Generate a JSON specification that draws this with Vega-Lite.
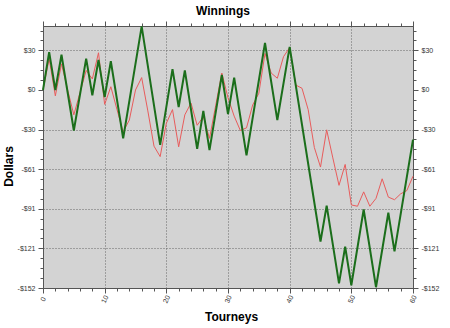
{
  "$schema": "https://vega.github.io/schema/vega-lite/v6.json",
  "width": 370,
  "height": 262,
  "autosize": "none",
  "padding": {"left": 43, "top": 26, "right": 37, "bottom": 40},
  "background": "white",
  "title": {"text": "Winnings", "fontSize": 12, "font": "Liberation Sans", "fontWeight": "bold", "color": "black", "offset": 3, "anchor": "middle", "dx": -5},
  "config": {
    "view": {"fill": "#d3d3d3", "stroke": "#555555", "strokeWidth": 1},
    "axis": {
      "labelFont": "Liberation Sans", "labelFontSize": 7, "labelColor": "#333333",
      "titleFont": "Liberation Sans", "titleFontSize": 12, "titleFontWeight": "bold", "titleColor": "black",
      "domainColor": "#555555", "tickColor": "#555555", "gridColor": "#666666", "gridDash": [1, 2], "gridWidth": 1
    }
  },
  "datasets": {
    "red": [
      {"t": 0, "v": 0}, {"t": 1, "v": 24}, {"t": 2, "v": -4.5}, {"t": 3, "v": 20}, {"t": 4, "v": 0},
      {"t": 5, "v": -19}, {"t": 6, "v": -2}, {"t": 7, "v": 15}, {"t": 8, "v": 8.5}, {"t": 9, "v": 28.5},
      {"t": 10, "v": -11}, {"t": 11, "v": 2.5}, {"t": 12, "v": -15}, {"t": 13, "v": -32}, {"t": 14, "v": -23},
      {"t": 15, "v": 0}, {"t": 16, "v": 9.5}, {"t": 17, "v": -16}, {"t": 18, "v": -43}, {"t": 19, "v": -51},
      {"t": 20, "v": -25.5}, {"t": 21, "v": -15}, {"t": 22, "v": -43.5}, {"t": 23, "v": -19}, {"t": 24, "v": -10},
      {"t": 25, "v": -27}, {"t": 26, "v": -20.5}, {"t": 27, "v": -37}, {"t": 28, "v": -12}, {"t": 29, "v": 13},
      {"t": 30, "v": -6}, {"t": 31, "v": -20}, {"t": 32, "v": -31}, {"t": 33, "v": -29}, {"t": 34, "v": -11.5},
      {"t": 35, "v": -2.5}, {"t": 36, "v": 28}, {"t": 37, "v": 13}, {"t": 38, "v": 9}, {"t": 39, "v": 25.5},
      {"t": 40, "v": 32.5}, {"t": 41, "v": 3.8}, {"t": 42, "v": 1.3}, {"t": 43, "v": -15}, {"t": 44, "v": -44},
      {"t": 45, "v": -59}, {"t": 46, "v": -30.5}, {"t": 47, "v": -52}, {"t": 48, "v": -73}, {"t": 49, "v": -57},
      {"t": 50, "v": -88}, {"t": 51, "v": -89}, {"t": 52, "v": -78}, {"t": 53, "v": -89}, {"t": 54, "v": -83},
      {"t": 55, "v": -68}, {"t": 56, "v": -82}, {"t": 57, "v": -84}, {"t": 58, "v": -79.5}, {"t": 59, "v": -77},
      {"t": 60, "v": -66}
    ],
    "green": [
      {"t": 0, "v": 0}, {"t": 1, "v": 29}, {"t": 2, "v": 0}, {"t": 3, "v": 27}, {"t": 5, "v": -31},
      {"t": 7, "v": 24}, {"t": 8, "v": -4}, {"t": 9, "v": 23}, {"t": 10, "v": -5.5}, {"t": 11, "v": 22},
      {"t": 13, "v": -37}, {"t": 16, "v": 48.7}, {"t": 19, "v": -42}, {"t": 21, "v": 16}, {"t": 22, "v": -13},
      {"t": 23, "v": 15}, {"t": 25, "v": -45}, {"t": 26, "v": -16}, {"t": 27, "v": -46}, {"t": 29, "v": 11.5},
      {"t": 30, "v": -18.5}, {"t": 31, "v": 9.5}, {"t": 33, "v": -50}, {"t": 36, "v": 36}, {"t": 38, "v": -23},
      {"t": 40, "v": 33}, {"t": 45, "v": -116}, {"t": 46, "v": -88.5}, {"t": 48, "v": -148}, {"t": 49, "v": -120},
      {"t": 50, "v": -149.5}, {"t": 52, "v": -91.5}, {"t": 54, "v": -151}, {"t": 56, "v": -94}, {"t": 57, "v": -123.5},
      {"t": 60, "v": -38}
    ]
  },
  "layer": [
    {
      "data": {"name": "red"},
      "mark": {"type": "line", "color": "#e85c5c", "strokeWidth": 1},
      "encoding": {
        "x": {
          "field": "t", "type": "quantitative",
          "scale": {"domain": [0, 60], "nice": false, "zero": false},
          "axis": {
            "orient": "bottom", "title": "Tourneys",
            "values": [0,2,4,6,8,10,12,14,16,18,20,22,24,26,28,30,32,34,36,38,40,42,44,46,48,50,52,54,56,58,60],
            "labelExpr": "datum.value % 10 == 0 ? datum.label : ''",
            "tickSize": {"condition": {"test": "datum.value % 10 == 0", "value": 5}, "value": 3},
            "grid": true,
            "gridOpacity": {"condition": {"test": "datum.value % 10 == 0", "value": 1}, "value": 0},
            "labelAngle": -65, "labelAlign": "center", "labelBaseline": "middle", "labelPadding": 6,
            "labelFlush": false, "labelOverlap": false,
            "titleX": 188, "titleY": 28, "titleBaseline": "middle", "titleAlign": "center"
          }
        },
        "y": {
          "field": "v", "type": "quantitative",
          "scale": {"domain": [-151.6, 49], "nice": false, "zero": false},
          "axis": {
            "orient": "left", "title": "Dollars",
            "values": [-151.6,-144.02,-136.44,-128.86,-121.28,-113.7,-106.12,-98.54,-90.96,-83.38,-75.8,-68.22,-60.64,-53.06,-45.48,-37.9,-30.32,-22.74,-15.16,-7.58,0,7.58,15.16,22.74,30.32,37.9,45.48],
            "labelExpr": "round(datum.value/7.58) % 4 == 0 ? (datum.value < 0 ? '-$' : '$') + format(abs(datum.value), '.0f') : ''",
            "tickSize": {"condition": {"test": "round(datum.value/7.58) % 4 == 0", "value": 5}, "value": 3},
            "grid": true,
            "gridOpacity": {"condition": {"test": "round(datum.value/7.58) % 4 == 0 && datum.value != 0", "value": 1}, "value": 0},
            "labelPadding": 3, "labelFlush": false, "labelOverlap": false,
            "titleX": -35, "titleY": 140, "titleBaseline": "middle", "titleAlign": "center"
          }
        }
      }
    },
    {
      "mark": {"type": "rule", "color": "#3c3c3c", "strokeWidth": 1},
      "encoding": {"y": {"datum": 0, "type": "quantitative", "axis": null}}
    },
    {
      "data": {"name": "green"},
      "mark": {"type": "line", "color": "#1b6e1b", "strokeWidth": 2},
      "encoding": {
        "x": {
          "field": "t", "type": "quantitative",
          "scale": {"domain": [0, 60], "nice": false, "zero": false},
          "axis": {
            "orient": "top", "title": null, "labels": false, "grid": false, "domain": false,
            "values": [0,2,4,6,8,10,12,14,16,18,20,22,24,26,28,30,32,34,36,38,40,42,44,46,48,50,52,54,56,58,60],
            "tickSize": {"condition": {"test": "datum.value % 10 == 0", "value": 5}, "value": 3}
          }
        },
        "y": {
          "field": "v", "type": "quantitative",
          "scale": {"domain": [-151.6, 49], "nice": false, "zero": false},
          "axis": {
            "orient": "right", "title": null, "grid": false,
            "values": [-151.6,-144.02,-136.44,-128.86,-121.28,-113.7,-106.12,-98.54,-90.96,-83.38,-75.8,-68.22,-60.64,-53.06,-45.48,-37.9,-30.32,-22.74,-15.16,-7.58,0,7.58,15.16,22.74,30.32,37.9,45.48],
            "labelExpr": "round(datum.value/7.58) % 4 == 0 ? (datum.value < 0 ? '-$' : '$') + format(abs(datum.value), '.0f') : ''",
            "tickSize": {"condition": {"test": "round(datum.value/7.58) % 4 == 0", "value": 5}, "value": 3},
            "labelPadding": 3, "labelFlush": false, "labelOverlap": false
          }
        }
      }
    }
  ],
  "resolve": {"axis": {"x": "independent", "y": "independent"}}
}
